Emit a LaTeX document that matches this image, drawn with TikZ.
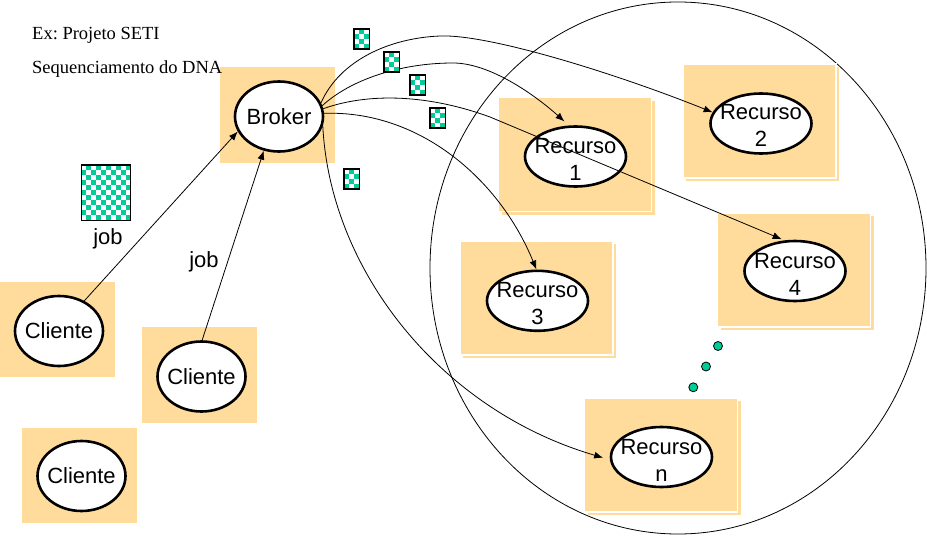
\documentclass[tikz,border=0pt]{standalone}
\usepackage{fontspec}
\setmainfont{Liberation Sans}
\newfontfamily\timesfont{Liberation Serif}
\usetikzlibrary{arrows.meta,shapes.geometric,shadows}
\frenchspacing

\definecolor{boxfill}{RGB}{255,220,155}
\definecolor{jobgreen}{RGB}{0,204,153}

% checkered job icon: left, top, width, height, columns, rows
\newcommand\jobicon[6]{%
  \begin{scope}[shift={(#1,#2)}]
    \fill[white] (0,0) rectangle (#3,#4);
    \foreach \ci in {1,...,#5}{%
      \foreach \cj in {1,...,#6}{%
        \pgfmathtruncatemacro\cellodd{mod(\ci+\cj,2)}%
        \ifnum\cellodd=1\relax
          \fill[jobgreen] ({(\ci-1)*#3/#5},{(\cj-1)*#4/#6}) rectangle ({\ci*#3/#5},{\cj*#4/#6});
        \fi
      }%
    }%
    \draw[line width=1.3pt] (0,0) rectangle (#3,#4);
  \end{scope}}

\tikzset{
  panel/.style={rectangle, fill=boxfill, draw=none, inner sep=0pt, outer sep=0pt,
    minimum width=115pt, minimum height=96pt},
  resbox/.style={rectangle, fill=boxfill, draw=white, line width=1.3pt, inner sep=0pt,
    minimum width=153pt, minimum height=114pt,
    general shadow={fill=boxfill, draw=none, shadow xshift=3pt, shadow yshift=-3pt}},
  oval/.style={ellipse, draw=black, fill=white, line width=2.6pt, inner sep=0pt,
    minimum width=88pt, minimum height=70pt},
  resoval/.style={oval, minimum width=101pt, minimum height=60pt},
  otext/.style={font=\fontsize{22}{27}\selectfont, align=center, inner sep=0pt},
  serifnote/.style={font=\timesfont\fontsize{18.5}{22}\selectfont, inner sep=0pt, anchor=base west},
  conn/.style={-{Latex[length=9pt,width=7pt]}, line width=0.8pt},
  dot/.style={draw=black, fill=jobgreen, line width=0.8pt}
}

\begin{document}
\begin{tikzpicture}[x=1pt,y=-1pt]
\useasboundingbox (0,0) rectangle (927,538);

% resource pool
\draw[line width=0.8pt] (678,268) ellipse [x radius=248, y radius=266];

% boxes
\node[panel] (brokerbox) at (277.5,115) {};
\node[panel, minimum height=95pt] (c1box) at (57.5,329.5) {};
\node[panel] (c2box) at (199.5,375) {};
\node[panel, minimum height=95pt] (c3box) at (79.5,475.5) {};
\node[resbox] (r1box) at (575,154.5) {};
\node[resbox] (r2box) at (759.5,121) {};
\node[resbox] (r4box) at (794,270) {};
\node[resbox] (r3box) at (536.5,298) {};
\node[resbox] (rnbox) at (661,455) {};

% ovals
\node[oval] (broker) at (279,116.5) {};
\node[oval] (c1) at (59,331) {};
\node[oval] (c2) at (201.5,376.5) {};
\node[oval] (c3) at (81.5,476) {};
\node[resoval] (r1) at (575.5,156.5) {};
\node[resoval] (r2) at (761,123.5) {};
\node[resoval] (r3) at (537.5,300.8) {};
\node[resoval] (r4) at (795,271) {};
\node[resoval] (rn) at (661.5,457) {};

% labels
\node[otext] (brokert) at (broker) {Broker};
\node[otext] (c1t) at (c1) {Cliente};
\node[otext] (c2t) at (c2) {Cliente};
\node[otext] (c3t) at (c3) {Cliente};
\node[otext] (r1t) at ([yshift=-3pt]r1.center) {Recurso\\1};
\node[otext] (r2t) at ([yshift=-2pt]r2.center) {Recurso\\2};
\node[otext] (r3t) at ([yshift=-3pt]r3.center) {Recurso\\3};
\node[otext] (r4t) at ([yshift=-3pt]r4.center) {Recurso\\4};
\node[otext] (rnt) at ([yshift=-3pt]rn.center) {Recurso\\n};

\node[serifnote] (title) at (32,39) {Ex: Projeto SETI};
\node[serifnote] (subtitle) at (32,73) {Sequenciamento do DNA};

\node[otext, anchor=base] (job1) at (108,244) {job};
\node[otext, anchor=base] (job2) at (204,267) {job};

% clients submit jobs to the broker
\draw[conn] (c1.50) -- (broker.200);
\draw[conn] (c2.89) -- (broker.246);

% broker dispatches jobs to the resources
\draw[conn] (broker.18) .. controls (340,60) and (390,38) .. (440,36)
  .. controls (490,34) and (620,75) .. (r2.167);
\draw[conn, shorten >=6pt] (broker.14) .. controls (350,80) and (400,63) .. (453,63)
  .. controls (490,63) and (535,95) .. (r1.102);
\draw[conn, shorten >=3pt] (broker.10) .. controls (370,92) and (430,95) .. (490,117)
  -- (r4.109);
\draw[conn] (broker.4) .. controls (420,110) and (500,180) .. (r3.92);
\draw[conn, shorten >=7pt] (broker.-12) .. controls (330,270) and (440,410) .. (rn.183);

% job packets
\jobicon{81.5}{165}{49}{55.5}{10}{11}
\jobicon{354}{29}{15.5}{20}{3}{4}
\jobicon{384}{52}{15.5}{20}{3}{4}
\jobicon{410}{75}{15.5}{20}{3}{4}
\jobicon{430}{108}{15.5}{20}{3}{4}
\jobicon{344}{169}{15.5}{20}{3}{4}

% more resources
\draw[dot] (718,346) circle [radius=4.5];
\draw[dot] (706,366.5) circle [radius=4.5];
\draw[dot] (693.3,387.3) circle [radius=4.5];
\end{tikzpicture}
\end{document}
